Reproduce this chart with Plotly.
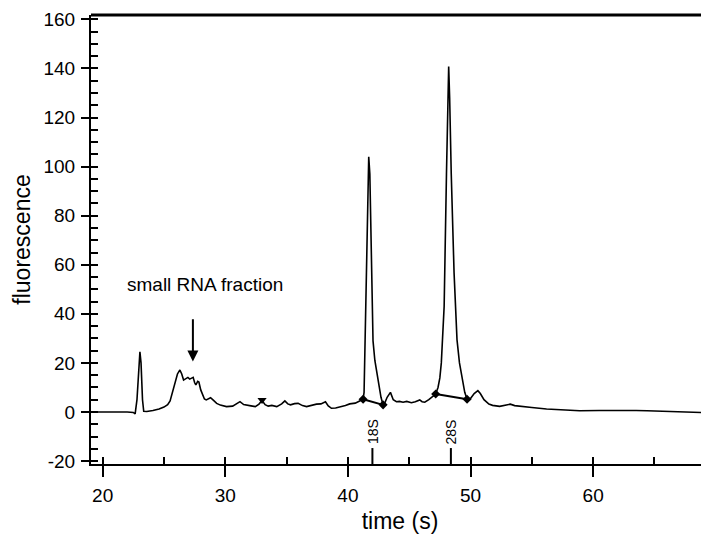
import plotly.graph_objects as go

# ---- data ----
time_s = [19.0, 20.0, 21.0, 22.0, 22.5, 22.65, 22.8, 22.95, 23.04, 23.13, 23.25, 23.35, 23.6, 24.1, 24.6,
          25.0, 25.3, 25.5, 25.7, 25.9, 26.1, 26.3, 26.45, 26.6, 26.8, 26.95, 27.1, 27.2, 27.38, 27.5,
          27.6, 27.75, 27.85, 28.0, 28.15, 28.3, 28.45, 28.65, 28.8, 29.0, 29.3, 29.6, 30.1, 30.6, 30.9,
          31.2, 31.5, 31.75, 32.1, 32.45, 32.75, 33.0, 33.25, 33.5, 33.8, 34.2, 34.6, 34.86, 35.1, 35.32,
          35.65, 35.94, 36.3, 36.63, 37.0, 37.44, 37.8, 38.17, 38.4, 38.66, 39.0, 39.34, 39.8, 40.15,
          40.6, 41.0, 41.24, 41.32, 41.4, 41.47, 41.58, 41.7, 41.79, 41.92, 42.05, 42.2, 42.46, 42.7,
          42.87, 43.0, 43.2, 43.47, 43.7, 43.96, 44.2, 44.5, 44.8, 45.18, 45.5, 45.86, 46.05, 46.27,
          46.6, 46.9, 47.16, 47.35, 47.5, 47.62, 47.72, 47.85, 48.04, 48.14, 48.22, 48.3, 48.43, 48.66,
          48.9, 49.1, 49.26, 49.53, 49.72, 50.0, 50.3, 50.6, 50.8, 51.1, 51.5, 51.8, 52.38, 52.9, 53.25,
          53.6, 54.0, 55.0, 56.2, 57.5, 58.9, 60.5, 62.0, 62.4, 63.5, 64.4, 66.0, 67.5, 69.5]
fluorescence = [0.0, 0.1, 0.0, 0.0, -0.2, -0.8, 5.0, 20.0, 24.5, 20.0, 5.0, 0.3, 0.2, 0.6, 1.2,
                2.0, 3.0, 4.5, 8.0, 12.0, 15.5, 17.1, 15.5, 13.0, 13.8, 14.1, 13.4, 13.6, 14.1, 12.0,
                11.0, 12.5, 12.2, 9.0, 7.0, 5.3, 4.9, 5.6, 5.8, 4.9, 3.5, 2.8, 2.2, 2.4, 3.2,
                4.2, 3.0, 2.9, 2.5, 2.2, 3.2, 4.7, 3.0, 2.4, 2.7, 2.2, 3.3, 4.5, 3.3, 2.9,
                3.4, 3.5, 2.6, 2.2, 2.8, 3.2, 3.3, 4.2, 2.5, 1.5, 1.6, 1.9, 2.6, 3.3,
                3.6, 4.6, 5.2, 8.0, 30.0, 57.0, 85.0, 104.0, 97.0, 57.0, 29.0, 21.0, 13.0, 6.0,
                2.9, 3.5, 6.0, 8.0, 5.0, 4.2, 4.3, 4.0, 4.3, 3.8, 4.2, 4.9, 4.2, 4.0,
                5.0, 6.3, 7.3, 10.0, 13.9, 20.0, 30.0, 43.0, 97.0, 125.0, 140.8, 128.0, 97.0, 56.7,
                29.4, 20.0, 15.9, 8.0, 5.2, 5.5, 7.5, 8.7, 7.5, 5.0, 3.2, 2.7, 2.3, 3.0, 3.2,
                2.6, 2.3, 1.8, 1.2, 0.8, 0.5, 0.6, 0.7, 0.8, 0.6, 0.5, 0.3, 0.1, -0.3]

peak_18s_base_t = [41.24, 42.87]
peak_18s_base_f = [5.2, 2.9]
peak_28s_base_t = [47.16, 49.72]
peak_28s_base_f = [7.3, 5.2]
valley_t = [33.0]
valley_f = [4.9]

marker_names = ["18S", "28S"]
marker_t = [42.0, 48.4]

x_range = [19.05, 69.45]
y_range = [-21.2, 161.8]
x_major_ticks = [20, 30, 40, 50, 60]
x_tick_text = ["20", "30", "40", "50", "60"]
y_major_ticks = [-20, 0, 20, 40, 60, 80, 100, 120, 140, 160]
y_tick_text = ["-20", "0", "20", "40", "60", "80", "100", "120", "140", "160"]

arrow_t = 27.36
arrow_top = 38.4
arrow_tip = 20.6
label_t = 28.35
label_f = 51.8
marker_line_top = -14.7

FONT = "Liberation Sans"

fig = go.Figure()

fig.add_trace(go.Scatter(x=time_s, y=fluorescence, mode="lines",
                         line=dict(color="black", width=1.6), showlegend=False, hoverinfo="skip"))
fig.add_trace(go.Scatter(x=peak_18s_base_t, y=peak_18s_base_f, mode="lines+markers",
                         line=dict(color="black", width=2),
                         marker=dict(symbol="diamond", size=7, color="black"), showlegend=False))
fig.add_trace(go.Scatter(x=peak_28s_base_t, y=peak_28s_base_f, mode="lines+markers",
                         line=dict(color="black", width=2),
                         marker=dict(symbol="diamond", size=7, color="black"), showlegend=False))
fig.add_trace(go.Scatter(x=valley_t, y=valley_f, mode="markers",
                         marker=dict(symbol="triangle-down", size=8, color="black"), showlegend=False))

# size-marker ticks (18S, 28S)
for name, t in zip(marker_names, marker_t):
    fig.add_trace(go.Scatter(x=[t, t], y=[y_range[0], marker_line_top], mode="lines",
                             line=dict(color="black", width=2), showlegend=False, cliponaxis=False))
    fig.add_annotation(x=t, y=marker_line_top + 0.8, text=name, showarrow=False, textangle=-90,
                       xanchor="center", yanchor="bottom", font=dict(family=FONT, size=14, color="black"))

# overlay axes for inside minor ticks
fig.add_trace(go.Scatter(x=[None], y=[None], xaxis="x2", yaxis="y2", showlegend=False))

fig.add_annotation(x=arrow_t, y=arrow_tip, ax=arrow_t, ay=arrow_top, axref="x", ayref="y",
                   xref="x", yref="y", showarrow=True, arrowhead=2, arrowsize=1.1, arrowwidth=2,
                   arrowcolor="black", text="")
fig.add_annotation(x=label_t, y=label_f, text="small RNA fraction", showarrow=False,
                   font=dict(family=FONT, size=19, color="black"))

# thick top frame line
fig.add_shape(type="line", xref="paper", yref="paper", x0=0, x1=1, y0=1, y1=1,
              line=dict(color="black", width=3))

axis_font = dict(family=FONT, size=19, color="black")
fig.update_layout(
    width=701, height=533,
    margin=dict(l=83, r=0, t=7, b=77),
    paper_bgcolor="white", plot_bgcolor="white",
    xaxis=dict(range=x_range, tickvals=x_major_ticks, ticktext=x_tick_text, ticks="outside", ticklen=11,
               tickwidth=1.5, tickcolor="black", showline=True, linecolor="black", linewidth=2,
               showgrid=False, zeroline=False, tickfont=axis_font, ticklabelstandoff=2, automargin=False,
               title=dict(text="time (s)", font=dict(family=FONT, size=23, color="black"), standoff=8)),
    yaxis=dict(range=y_range, tickvals=y_major_ticks, ticktext=y_tick_text, ticks="outside", ticklen=8,
               tickwidth=1.5, tickcolor="black", showline=True, linecolor="black", linewidth=2,
               showgrid=False, zeroline=False, tickfont=axis_font, ticklabelstandoff=2, automargin=False,
               title=dict(text="fluorescence", font=dict(family=FONT, size=23, color="black"), standoff=6)),
    xaxis2=dict(range=x_range, overlaying="x", anchor="y", side="bottom", dtick=5, tick0=0,
                ticks="inside", ticklen=7, tickwidth=1.5, tickcolor="black", showticklabels=False,
                showgrid=False, zeroline=False, showline=False, automargin=False),
    yaxis2=dict(range=y_range, overlaying="y", anchor="x", side="left", dtick=5, tick0=0,
                ticks="inside", ticklen=7, tickwidth=1.5, tickcolor="black", showticklabels=False,
                showgrid=False, zeroline=False, showline=False, automargin=False),
)

fig.write_html("out.html")
